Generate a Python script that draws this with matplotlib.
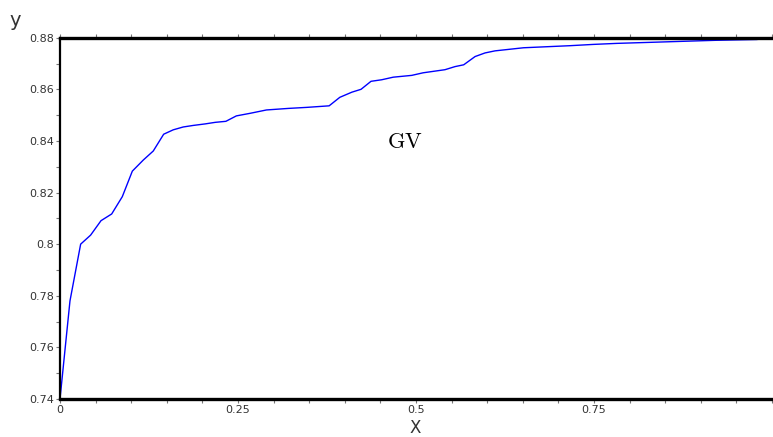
import matplotlib
matplotlib.use("Agg")
import matplotlib.pyplot as plt
from matplotlib.ticker import MultipleLocator, FixedLocator

x_vals = [0.0, 0.014, 0.029, 0.043, 0.0576, 0.0726, 0.0875, 0.1016, 0.117, 0.131,
          0.1456, 0.159, 0.173, 0.187, 0.204, 0.218, 0.233, 0.2477, 0.267, 0.290,
          0.3207, 0.3465, 0.378, 0.393, 0.41, 0.4228, 0.4368, 0.4518, 0.468, 0.494,
          0.510, 0.5407, 0.5548, 0.567, 0.583, 0.597, 0.611, 0.651, 0.716, 0.749,
          0.782, 0.829, 0.875, 0.922, 0.978, 0.997]
y_vals = [0.740, 0.778, 0.800, 0.8035, 0.8091, 0.8117, 0.8184, 0.8283, 0.8326, 0.8361,
          0.8426, 0.8443, 0.8454, 0.8460, 0.8466, 0.8472, 0.8476, 0.8497, 0.8507, 0.8520,
          0.8526, 0.8530, 0.8536, 0.8569, 0.8589, 0.8600, 0.8631, 0.8637, 0.8647, 0.8654,
          0.8664, 0.8676, 0.8688, 0.8695, 0.8727, 0.8741, 0.8749, 0.8761, 0.8769, 0.8774,
          0.8778, 0.8782, 0.8786, 0.8790, 0.8793, 0.8798]

x_ticks = [0, 0.25, 0.5, 0.75]
x_tick_labels = ["0", "0.25", "0.5", "0.75"]
y_ticks = [0.74, 0.76, 0.78, 0.80, 0.82, 0.84, 0.86, 0.88]
y_tick_labels = ["0.74", "0.76", "0.78", "0.8", "0.82", "0.84", "0.86", "0.88"]

plt.rcParams['mathtext.fontset'] = 'cm'

fig = plt.figure(figsize=(7.73, 4.37), dpi=100)
ax = fig.add_axes([60/773, 38/437, 712/773, 361.3/437])

ax.plot(x_vals, y_vals, color='#0000ff', lw=1.0)

ax.set_xlim(0, 1.0)
ax.set_ylim(0.74, 0.88)

for s in ['top', 'bottom']:
    ax.spines[s].set_linewidth(2.4)
ax.spines['left'].set_linewidth(1.6)
ax.spines['right'].set_visible(False)

ax.xaxis.set_major_locator(FixedLocator(x_ticks))
ax.set_xticklabels(x_tick_labels)
ax.yaxis.set_major_locator(FixedLocator(y_ticks))
ax.set_yticklabels(y_tick_labels)
ax.xaxis.set_minor_locator(MultipleLocator(0.05))
ax.yaxis.set_minor_locator(MultipleLocator(0.01))

ax.tick_params(axis='both', which='both', direction='out', color='#777777',
               length=3, width=0.8, labelsize=8, labelcolor='#333333', pad=1)
ax.tick_params(axis='x', which='both', top=True, bottom=True)

fig.text(15/773, 1 - 21/437, "y", fontsize=14, ha='center', va='center',
         color='#333333')
fig.text(415/773, 1 - 428/437, "X", fontsize=12, ha='center', va='center',
         color='#333333')

ax.text(0.485, 0.8394, r"$\mathrm{GV}$", fontsize=16, ha='center', va='center')

fig.savefig("out.png", dpi=100)
